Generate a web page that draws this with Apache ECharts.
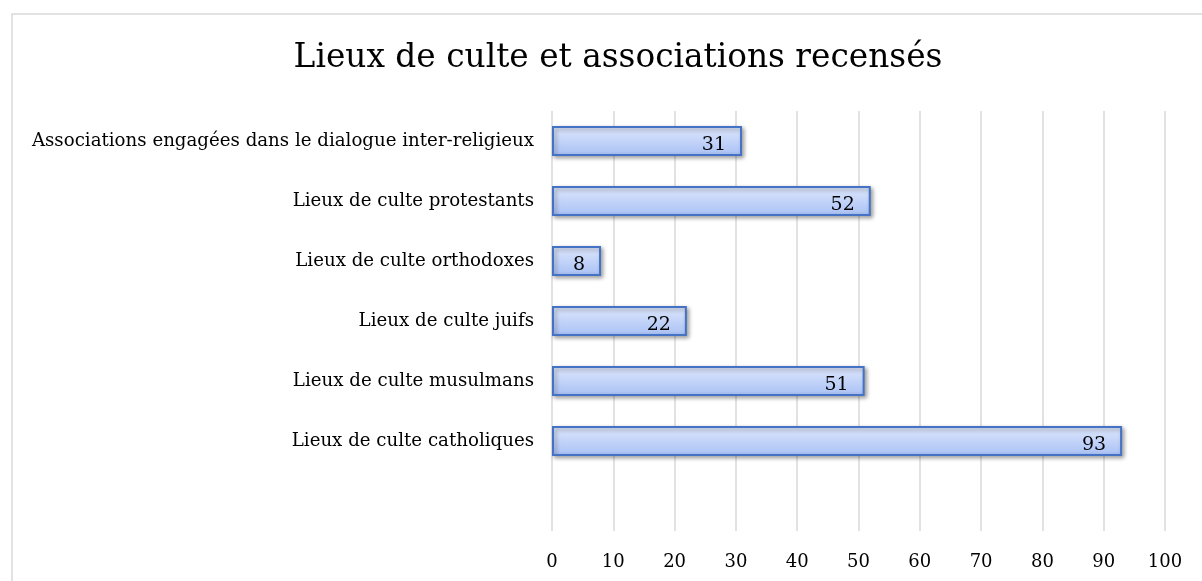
<!DOCTYPE html>
<html><head><meta charset="utf-8">
<script src="https://cdn.jsdelivr.net/npm/echarts@6/dist/echarts.min.js"></script>
<style>html,body{margin:0;padding:0;background:#fff}#c{width:1202px;height:581px}</style>
</head><body><div id="c"></div>
<script>
const categories = ["", "Lieux de culte catholiques", "Lieux de culte musulmans", "Lieux de culte juifs", "Lieux de culte orthodoxes", "Lieux de culte protestants", "Associations engagées dans le dialogue inter-religieux"];
const values = [null, 93, 51, 22, 8, 52, 31];
const xTicks = [0, 10, 20, 30, 40, 50, 60, 70, 80, 90, 100];

const chart = echarts.init(document.getElementById('c'));
chart.setOption({
  animation: false,
  backgroundColor: '#fff',
  graphic: [{type: 'rect', shape: {x: 12, y: 14, width: 1200, height: 580}, style: {fill: 'none', stroke: '#d9d9d9', lineWidth: 1.5}}],
  title: {text: 'Lieux de culte et associations recensés', left: 613, textAlign: 'center', top: 37,
    textStyle: {fontFamily: 'DejaVu Serif', fontSize: 32.8, fontWeight: 'normal', color: '#000'}},
  grid: {left: 552, right: 37, top: 111, bottom: 50},
  xAxis: {type: 'value', min: 0, max: 100, interval: 10, position: 'bottom',
    axisLine: {show: false}, axisTick: {show: false},
    splitLine: {lineStyle: {color: '#d9d9d9', width: 1.5}},
    axisLabel: {fontFamily: 'DejaVu Serif', fontSize: 18, color: '#000', margin: 22,
      formatter: v => xTicks.includes(v) ? String(v) : ''}},
  yAxis: {type: 'category', data: categories,
    axisLine: {show: false}, axisTick: {show: false},
    axisLabel: {fontFamily: 'DejaVu Serif', fontSize: 18.2, color: '#000', margin: 18}},
  series: [{type: 'bar', data: values, barWidth: 30,
    itemStyle: {
      color: new echarts.graphic.LinearGradient(0, 0, 0, 1, [{offset: 0, color: '#dfe8fd'}, {offset: 1, color: '#a8c0f4'}]),
      borderColor: '#4472c4', borderWidth: 2,
      shadowColor: 'rgba(0,0,0,0.35)', shadowBlur: 4, shadowOffsetX: 2, shadowOffsetY: 2},
    label: {show: true, position: 'insideRight', distance: 16, fontFamily: 'DejaVu Serif', fontSize: 19, color: '#000', offset: [0, 4]}
  }]
});
</script></body></html>
